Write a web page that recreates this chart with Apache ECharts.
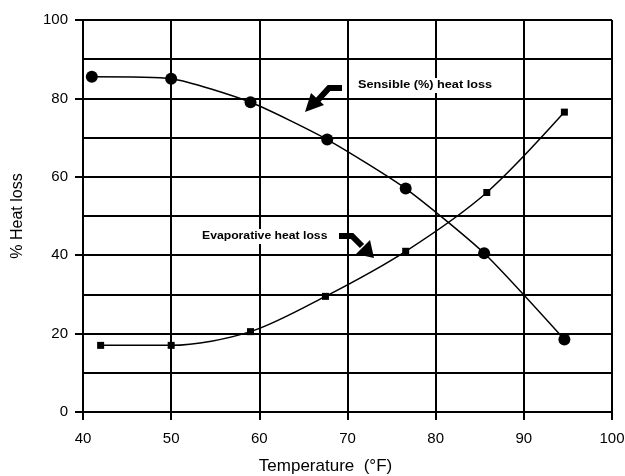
<!DOCTYPE html>
<html>
<head>
<meta charset="utf-8">
<script src="https://cdn.jsdelivr.net/npm/echarts@6/dist/echarts.min.js"></script>
<style>
  html, body { margin: 0; padding: 0; background: #fff; }
  #chart { width: 625px; height: 476px; }
</style>
</head>
<body>
<div id="chart"></div>
<script>
// data
var tempSensible = [41, 50, 59, 67.7, 76.6, 85.5, 94.6];
var sensible = [85.5, 85, 79, 69.5, 57, 40.5, 18.5];
var tempEvap = [42, 50, 59, 67.5, 76.6, 85.8, 94.6];
var evaporative = [17, 17, 20.5, 29.5, 41, 56, 76.5];
var xTicks = [40, 50, 60, 70, 80, 90, 100];
var yTicks = [0, 20, 40, 60, 80, 100];

function pairs(xs, ys) {
    return xs.map(function (x, i) { return [x, ys[i]]; });
}

var myChart = echarts.init(document.getElementById('chart'));
var font = '"Liberation Sans", Arial, sans-serif';
var gridLine = { color: '#000', width: 2 };

var option = {
    backgroundColor: '#fff',
    animation: false,
    grid: { left: 83, right: 13, top: 20, bottom: 64, outerBoundsMode: 'none' },
    xAxis: {
        type: 'value',
        min: xTicks[0],
        max: xTicks[xTicks.length - 1],
        interval: 10,
        name: 'Temperature  (°F)',
        nameLocation: 'middle',
        nameGap: 46,
        nameTextStyle: { color: '#000', fontSize: 17, fontFamily: font, padding: [0, 44, 0, 0] },
        axisLine: { lineStyle: gridLine },
        axisTick: { show: true, inside: false, length: 8, lineStyle: gridLine },
        axisLabel: { color: '#000', fontSize: 15, fontFamily: font, margin: 19 },
        splitLine: { show: true, lineStyle: gridLine }
    },
    yAxis: {
        type: 'value',
        min: yTicks[0],
        max: yTicks[yTicks.length - 1],
        interval: 20,
        name: '% Heat loss',
        nameLocation: 'middle',
        nameGap: 57,
        nameTextStyle: { color: '#000', fontSize: 16, fontFamily: font },
        axisLine: { show: true, lineStyle: gridLine },
        axisTick: { show: true, length: 8, lineStyle: gridLine },
        axisLabel: { color: '#000', fontSize: 15, fontFamily: font, margin: 15 },
        splitLine: { show: true, lineStyle: gridLine },
        minorTick: { show: false, splitNumber: 2 },
        minorSplitLine: { show: true, lineStyle: gridLine }
    },
    series: [{
        name: 'Sensible (%) heat loss',
        type: 'line',
        smooth: 0.2,
        data: pairs(tempSensible, sensible),
        symbol: 'circle',
        symbolSize: 12,
        itemStyle: { color: '#000' },
        lineStyle: { color: '#000', width: 1.5 }
    }, {
        name: 'Evaporative heat loss',
        type: 'line',
        smooth: 0.3,
        data: pairs(tempEvap, evaporative),
        symbol: 'rect',
        symbolSize: 7,
        itemStyle: { color: '#000' },
        lineStyle: { color: '#000', width: 1.5 }
    }],
    graphic: [
        // labels on the curves
        { type: 'rect', left: 355, top: 78, shape: { width: 140, height: 15 }, style: { fill: '#fff' }, z: 50 },
        { type: 'text', x: 358, y: 80, scaleX: 1.27, z: 51,
          style: { text: 'Sensible (%) heat loss', fill: '#000', font: 'bold 10px ' + font } },
        { type: 'rect', left: 199, top: 229, shape: { width: 132, height: 15 }, style: { fill: '#fff' }, z: 50 },
        { type: 'text', x: 202, y: 231, scaleX: 1.22, z: 51,
          style: { text: 'Evaporative heat loss', fill: '#000', font: 'bold 10px ' + font } },
        // thick arrows
        { type: 'polyline', z: 52, shape: { points: [[342, 88], [329, 88], [318, 100]] },
          style: { stroke: '#000', lineWidth: 6, fill: null } },
        { type: 'polygon', z: 52, shape: { points: [[305, 112], [311, 93], [324, 105]] },
          style: { fill: '#000' } },
        { type: 'polyline', z: 52, shape: { points: [[339, 236], [352, 236], [362, 246]] },
          style: { stroke: '#000', lineWidth: 6, fill: null } },
        { type: 'polygon', z: 52, shape: { points: [[374, 258], [370, 240], [356, 254]] },
          style: { fill: '#000' } }
    ]
};

myChart.setOption(option);
</script>
</body>
</html>
